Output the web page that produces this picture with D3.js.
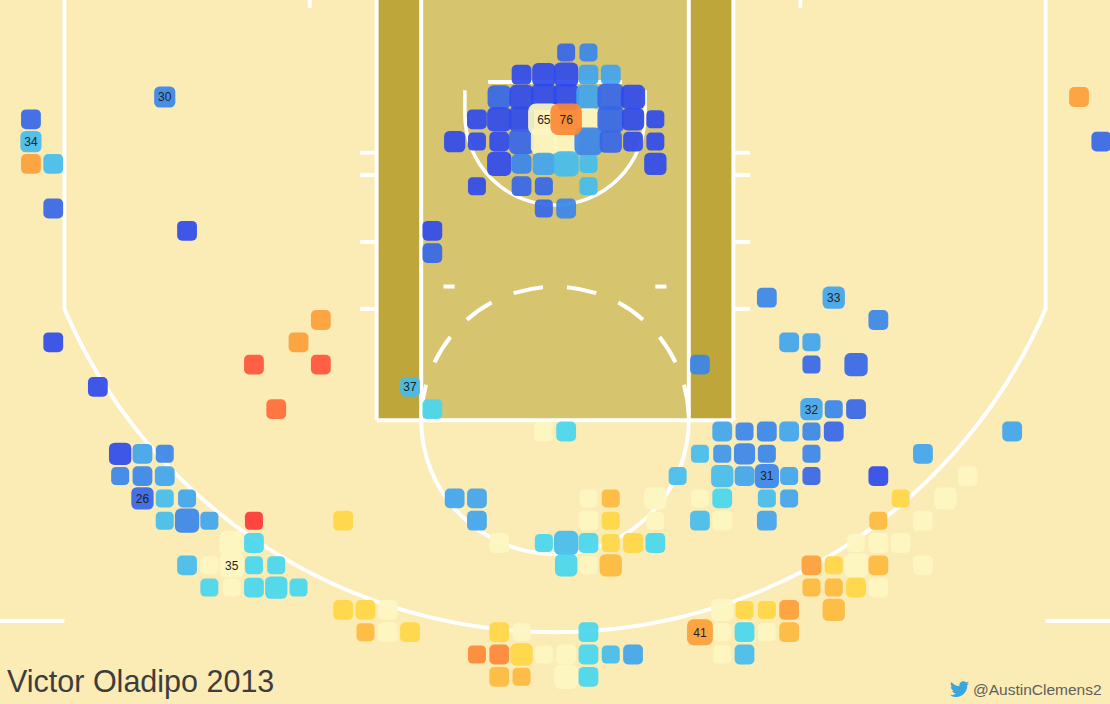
<!DOCTYPE html>
<html>
<head>
<meta charset="utf-8">
<script src="https://cdn.jsdelivr.net/npm/d3@7"></script>
<style>
  html, body { margin: 0; padding: 0; background: #fbebb5; overflow: hidden; }
  svg { display: block; }
</style>
</head>
<body>
<svg id="chart" width="1110" height="704"></svg>
<script>
// Shot grid: every cell is 1 ft x 1 ft on a 50 ft wide half court.
// Entry = [column (ft from left sideline), row (ft from baseline), attempts, FG% minus league avg (pts), FG% label]
const rimShots = [
  [25, 2, 1, -10], [26, 2, 1, -8],
  [23, 3, 2, -12], [24, 3, 5, -12], [25, 3, 6, -12], [26, 3, 2, -6], [27, 3, 2, -6],
  [22, 4, 5, -10], [23, 4, 6, -12], [24, 4, 8, -12], [25, 4, 8, -12], [26, 4, 6, -6], [27, 4, 9, -10], [28, 4, 6, -12],
  [21, 5, 2, -12], [22, 5, 6, -12], [23, 5, 7, -12], [26, 5, 4, 0], [27, 5, 9, -10], [28, 5, 4, -12], [29, 5, 1, -12],
  [20, 6, 3, -12], [21, 6, 1, -12], [22, 6, 2, -12], [23, 6, 7, -10], [24, 6, 8, 0], [25, 6, 8, 0],
  [26, 6, 11, -8], [27, 6, 4, -10], [28, 6, 2, -12], [29, 6, 1, -12],
  [22, 7, 6, -12], [23, 7, 2, -8], [24, 7, 4, -6], [25, 7, 7, -4], [26, 7, 1, -4], [29, 7, 4, -12],
  [21, 8, 1, -12], [23, 8, 2, -10], [24, 8, 1, -10], [26, 8, 1, -4],
  [24, 9, 1, -10], [25, 9, 2, -8],
  [24, 5, 17, 0, "65"], [25, 5, 17, 8, "76"]
];

const paintShots = [
  [19, 10, 2, -12], [19, 11, 2, -10], [18, 17, 2, -4, "37"], [19, 18, 2, -2], [31, 16, 2, -8]
];

const leftShots = [
  [1, 5, 2, -10], [1, 6, 3, -4, "34"], [1, 7, 2, 6], [2, 7, 2, -4], [2, 9, 2, -10],
  [7, 4, 3, -8, "30"], [8, 10, 2, -12], [2, 15, 2, -12], [4, 17, 2, -12],
  [14, 14, 2, 6], [13, 15, 2, 6], [11, 16, 2, 10], [14, 16, 2, 10], [12, 18, 2, 9],
  [5, 20, 4, -12], [6, 20, 2, -6], [7, 20, 1, -8],
  [5, 21, 1, -8], [6, 21, 2, -8], [7, 21, 2, -6],
  [6, 22, 4, -10, "26"], [7, 22, 1, -4], [8, 22, 1, -6],
  [7, 23, 1, -4], [8, 23, 6, -8], [9, 23, 1, -6], [11, 23, 1, 12],
  [10, 24, 6, 0], [11, 24, 2, -2],
  [8, 25, 2, -4], [9, 25, 1, 0], [10, 25, 6, 0, "35"], [11, 25, 1, -2], [12, 25, 1, -2],
  [9, 26, 1, -2], [10, 26, 1, 0], [11, 26, 2, -2], [12, 26, 4, -2], [13, 26, 1, -2]
];

const centerShots = [
  [15, 23, 2, 2], [20, 22, 2, -6], [21, 22, 2, -6], [21, 23, 2, -6], [22, 24, 2, 0],
  [24, 19, 2, 0], [25, 19, 2, -2],
  [26, 22, 1, 0], [27, 22, 1, 4], [29, 22, 4, 0],
  [26, 23, 2, 0], [27, 23, 1, 2], [29, 23, 1, 0],
  [24, 24, 1, -2], [25, 24, 6, -4], [26, 24, 2, -2], [27, 24, 1, 2], [28, 24, 2, 2], [29, 24, 2, -2],
  [25, 25, 4, -2], [26, 25, 1, 0], [27, 25, 4, 4]
];

const topKeyShots = [
  [15, 27, 2, 2], [16, 27, 2, 2], [17, 27, 2, 0],
  [16, 28, 1, 4], [17, 28, 2, 0], [18, 28, 2, 2], [22, 28, 2, 2], [23, 28, 1, 0], [26, 28, 2, -2],
  [21, 29, 1, 8], [22, 29, 2, 8], [23, 29, 4, 2], [24, 29, 1, 0], [25, 29, 2, 0], [26, 29, 2, -2], [27, 29, 1, -4], [28, 29, 2, -6],
  [22, 30, 2, 4], [23, 30, 1, 4], [25, 30, 6, 0], [26, 30, 2, -2]
];

const rightShots = [
  [48, 4, 2, 6], [49, 6, 2, -10],
  [34, 13, 2, -8], [37, 13, 4, -6, "33"], [39, 14, 2, -8],
  [35, 15, 2, -6], [36, 15, 1, -6], [36, 16, 1, -10], [38, 16, 5, -10],
  [36, 18, 4, -6, "32"], [37, 18, 1, -8], [38, 18, 2, -10],
  [32, 19, 2, -6], [33, 19, 1, -8], [34, 19, 2, -8], [35, 19, 2, -6], [36, 19, 1, -8], [37, 19, 2, -10], [45, 19, 2, -6],
  [31, 20, 1, -4], [32, 20, 1, -7], [33, 20, 3, -8], [34, 20, 1, -8], [36, 20, 1, -8], [41, 20, 2, -6],
  [30, 21, 1, -4], [32, 21, 4, -4], [33, 21, 2, -6], [34, 21, 6, -8, "31"], [35, 21, 1, -6], [36, 21, 1, -10], [39, 21, 2, -12], [43, 21, 2, 0],
  [31, 22, 1, 0], [32, 22, 2, -2], [34, 22, 1, -4], [35, 22, 1, -6], [40, 22, 1, 2], [42, 22, 4, 0],
  [31, 23, 2, -4], [32, 23, 2, 0], [34, 23, 2, -6], [39, 23, 1, 4], [41, 23, 2, 0],
  [38, 24, 1, 0], [39, 24, 2, 0], [40, 24, 2, 0],
  [36, 25, 2, 6], [37, 25, 1, 2], [38, 25, 6, 0], [39, 25, 2, 4], [41, 25, 2, 0],
  [36, 26, 1, 4], [37, 26, 1, 4], [38, 26, 2, 2], [39, 26, 2, 0],
  [32, 27, 4, 0], [33, 27, 1, 2], [34, 27, 1, 2], [35, 27, 2, 6], [37, 27, 4, 4],
  [31, 28, 8, 6, "41"], [32, 28, 1, 0], [33, 28, 2, -2], [34, 28, 1, 0], [35, 28, 2, 4],
  [32, 29, 1, 0], [33, 29, 2, -4]
];

// Diverging colour ramp: cold (blue) -> league average (cream) -> hot (red)
const diffStops  = [-12, -10, -8, -6, -4, -2, 0, 2, 4, 6, 8, 10, 12];
const diffColors = ["#2f4aea", "#3566e8", "#3a86ea", "#40a4ee", "#44bcef", "#48d6f0",
                    "#fdf6c2", "#ffd644", "#fdb83e", "#fd9e3a", "#fc8836", "#ff523a", "#ff3636"];

const titleText = "Victor Oladipo 2013";
const creditText = "@AustinClemens2";

const W = 1110, H = 704;
const FT = 22.3; // pixels per foot

const svg = d3.select("#chart");

// Court coordinates in feet -> pixels
const x = d3.scaleLinear().domain([0, 50]).range([555 - 25 * FT, 555 + 25 * FT]);
const y = d3.scaleLinear().domain([0, 47]).range([-3.35, -3.35 + 47 * FT]);
const px = d => x(d) - x(0); // length in feet -> pixels

const color = d3.scaleLinear().domain(diffStops).range(diffColors).clamp(true);
const side = d3.scaleSqrt().domain([1, 20]).range([18, 33]);

// ---------- court ----------
const court = svg.append("g");
court.append("rect").attr("width", W).attr("height", H).attr("fill", "#fbebb5");

court.append("rect")
  .attr("x", x(17)).attr("y", y(0) - 10)
  .attr("width", px(16)).attr("height", y(19) - y(0) + 10)
  .attr("fill", "#bfa63a");
court.append("rect")
  .attr("x", x(19)).attr("y", y(0) - 10)
  .attr("width", px(12)).attr("height", y(19) - y(0) + 10)
  .attr("fill", "#d6c46e");

const line = d3.line().x(d => x(d[0])).y(d => y(d[1]));
const lines = court.append("g")
  .attr("fill", "none").attr("stroke", "#fff").attr("stroke-width", 4);

const segs = [
  // lane lines and free-throw line
  [[17, -1], [17, 19]], [[33, -1], [33, 19]],
  [[19, -1], [19, 19]], [[31, -1], [31, 19]],
  [[17, 19], [33, 19]],
  // lane hash marks
  [[16.25, 7], [17, 7]], [[16.25, 8], [17, 8]], [[16.25, 11], [17, 11]], [[16.25, 14], [17, 14]],
  [[33, 7], [33.75, 7]], [[33, 8], [33.75, 8]], [[33, 11], [33.75, 11]], [[33, 14], [33.75, 14]],
  // marks on the key
  [[20, 13], [20.5, 13]], [[29.5, 13], [30, 13]],
  // baseline marks
  [[14, -1], [14, 0.5]], [[36, -1], [36, 0.5]],
  // sideline marks
  [[-1, 28], [3, 28]], [[47, 28], [51, 28]],
  // backboard
  [[22, 3.83], [28, 3.83]]
];
segs.forEach(s => lines.append("path").attr("d", line(s)));

// three-point line: corner straights joined by an arc centred on the basket
const arcCy = 4.56, arcR = 23.94, cornerY = 14;
lines.append("path").attr("d",
  `M${x(3)},${y(-1)} L${x(3)},${y(cornerY)} ` +
  `A${px(arcR)},${px(arcR)} 0 0 0 ${x(47)},${y(cornerY)} L${x(47)},${y(-1)}`);

// restricted area
const rimY = 5.3, raR = 4.04;
lines.append("path").attr("stroke-width", 3.5).attr("d",
  `M${x(25 - raR)},${y(4.2)} L${x(25 - raR)},${y(rimY)} ` +
  `A${px(raR)},${px(raR)} 0 0 0 ${x(25 + raR)},${y(rimY)} L${x(25 + raR)},${y(4.2)}`);

// free-throw circle: solid outside the lane, dashed inside
lines.append("path").attr("d",
  `M${x(31)},${y(19)} A${px(6)},${px(6)} 0 0 1 ${x(19)},${y(19)}`);
lines.append("path")
  .attr("stroke-dasharray", "30 24").attr("stroke-dashoffset", 48)
  .attr("d", `M${x(19)},${y(19)} A${px(6)},${px(6)} 0 0 1 ${x(31)},${y(19)}`);

// ---------- shots ----------
const shots = [].concat(leftShots, centerShots, topKeyShots, rightShots, paintShots, rimShots)
  .map(([c, r, n, d, label]) => ({ c, r, n, d, label }));

const cells = svg.append("g");
cells.selectAll("rect")
  .data(shots)
  .join("rect")
  .attr("x", d => x(d.c + 0.5) - side(d.n) / 2)
  .attr("y", d => y(d.r + 0.5) - side(d.n) / 2)
  .attr("width", d => side(d.n))
  .attr("height", d => side(d.n))
  .attr("rx", d => side(d.n) * 0.25)
  .attr("fill", d => color(d.d))
  .attr("fill-opacity", 0.92);

cells.selectAll("text")
  .data(shots.filter(d => d.label))
  .join("text")
  .attr("x", d => x(d.c + 0.5))
  .attr("y", d => y(d.r + 0.5))
  .attr("dy", "0.36em")
  .attr("text-anchor", "middle")
  .attr("font-family", "'Liberation Sans', Arial, sans-serif")
  .attr("font-size", 12)
  .attr("fill", "#222")
  .text(d => d.label);

// ---------- title and credit ----------
svg.append("text")
  .attr("x", 7).attr("y", 692)
  .attr("font-family", "'Liberation Sans', Arial, sans-serif")
  .attr("font-size", 30.5)
  .attr("fill", "#3d3d3d")
  .text(titleText);

svg.append("path")
  .attr("transform", "translate(950,679.5) scale(0.8)")
  .attr("fill", "#39a6e0")
  .attr("d", "M23.954 4.569c-.885.389-1.83.654-2.825.775 1.014-.611 1.794-1.574 2.163-2.723-.951.555-2.005.959-3.127 1.184-.896-.959-2.173-1.559-3.591-1.559-2.717 0-4.92 2.203-4.92 4.917 0 .39.045.765.127 1.124C7.691 8.094 4.066 6.13 1.640 3.161c-.427.722-.666 1.561-.666 2.475 0 1.71.87 3.213 2.188 4.096-.807-.026-1.566-.248-2.228-.616v.061c0 2.385 1.693 4.374 3.946 4.827-.413.111-.849.171-1.296.171-.314 0-.615-.03-.916-.086.631 1.953 2.445 3.377 4.604 3.417-1.68 1.319-3.809 2.105-6.102 2.105-.39 0-.779-.023-1.17-.067 2.189 1.394 4.768 2.209 7.557 2.209 9.054 0 13.999-7.496 13.999-13.986 0-.209 0-.42-.015-.63.961-.689 1.8-1.6 2.46-2.548l-.047-.02z");

svg.append("text")
  .attr("x", 973).attr("y", 695)
  .attr("font-family", "'Liberation Sans', Arial, sans-serif")
  .attr("font-size", 15.5)
  .attr("fill", "#5e5e5e")
  .text(creditText);
</script>
</body>
</html>
